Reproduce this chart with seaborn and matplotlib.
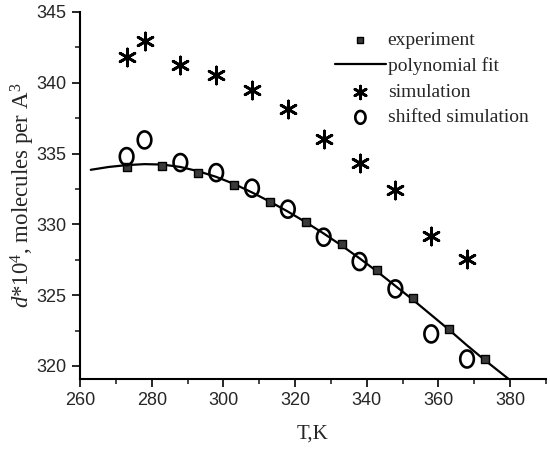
import matplotlib
matplotlib.use("Agg")
import matplotlib.pyplot as plt
import seaborn as sns
import numpy as np
import pandas as pd
from matplotlib.path import Path
from matplotlib.ticker import MultipleLocator

# data
exp_T = [273, 283, 293, 303, 313, 323, 333, 343, 353, 363, 373]
exp_d = [334.05, 334.12, 333.65, 332.78, 331.58, 330.19, 328.64, 326.78, 324.80, 322.63, 320.50]

fit_T = [263, 268, 273, 278, 283, 288, 293, 298, 303, 308, 313, 318, 323,
         328, 333, 338, 343, 348, 353, 358, 363, 368, 373, 378, 380]
fit_d = [333.85, 334.05, 334.18, 334.25, 334.22, 334.05, 333.75, 333.35, 332.85,
         332.25, 331.60, 330.90, 330.15, 329.35, 328.50, 327.60, 326.65, 325.65,
         324.65, 323.60, 322.55, 321.45, 320.40, 319.40, 319.00]

sim_T = [273, 278, 288, 298, 308, 318, 328, 338, 348, 358, 368]
sim_d = [341.84, 342.97, 341.26, 340.55, 339.49, 338.15, 336.01, 334.31, 332.39, 329.18, 327.56]

shift_T = [273, 278, 288, 298, 308, 318, 328, 338, 348, 358, 368]
shift_d = [334.78, 335.96, 334.36, 333.65, 332.55, 331.07, 329.09, 327.37, 325.44, 322.26, 320.49]

sns.set_style("ticks")
plt.rcParams['font.family'] = ['Liberation Sans', 'DejaVu Sans']
plt.rcParams['mathtext.fontset'] = 'custom'
plt.rcParams['mathtext.rm'] = 'Liberation Serif'
plt.rcParams['mathtext.it'] = 'Liberation Serif:italic'

fig = plt.figure(figsize=(5.5, 4.49), dpi=100)
ax = fig.add_axes([0.1455, 0.156, 0.847, 0.8175])

# tall open "O" marker
t = np.linspace(0, 2 * np.pi, 60)
oval = Path(np.column_stack([np.cos(t), 1.25 * np.sin(t)]), closed=True)

sns.scatterplot(x=exp_T, y=exp_d, ax=ax, marker='s', s=28, color='#3a3a3a',
                edgecolor='black', linewidth=1.0, label='experiment', zorder=3)
sns.lineplot(x=fit_T, y=fit_d, ax=ax, color='black', linewidth=1.6,
             label='polynomial fit', sort=False, zorder=2)
sns.scatterplot(x=sim_T, y=sim_d, ax=ax, marker=(6, 2, 0), s=150, color='black',
                linewidth=2.0, label='simulation', zorder=3)
sns.scatterplot(x=shift_T, y=shift_d, ax=ax, marker=oval, s=150, facecolor='none',
                edgecolor='black', linewidth=1.9, label='shifted simulation', zorder=3)

ax.set_xlim(260, 390)
ax.set_ylim(319.08, 345)
ax.xaxis.set_major_locator(MultipleLocator(20))
ax.xaxis.set_minor_locator(MultipleLocator(10))
ax.yaxis.set_major_locator(MultipleLocator(5))
ax.yaxis.set_minor_locator(MultipleLocator(2.5))
ax.tick_params(which='major', length=6, width=1.4, labelsize=13, direction='out')
ax.tick_params(which='minor', length=3.5, width=1.2, direction='out')
for sp in ['top', 'right']:
    ax.spines[sp].set_visible(False)
for sp in ['left', 'bottom']:
    ax.spines[sp].set_linewidth(1.5)
    ax.spines[sp].set_color('black')

ax.set_xlabel('T,K', fontsize=15, family='Liberation Serif', labelpad=11)
ax.set_ylabel(r'$d$*10$^4$, molecules per A$^3$', fontsize=16.5,
              family='Liberation Serif', labelpad=0)

leg = ax.legend(loc='upper right', bbox_to_anchor=(1.0, 0.995), frameon=False,
                prop={'family': 'Liberation Serif', 'size': 14},
                handlelength=2.6, handletextpad=0.1, labelspacing=0.42,
                markerscale=0.75)

fig.savefig('out.png', dpi=100)
